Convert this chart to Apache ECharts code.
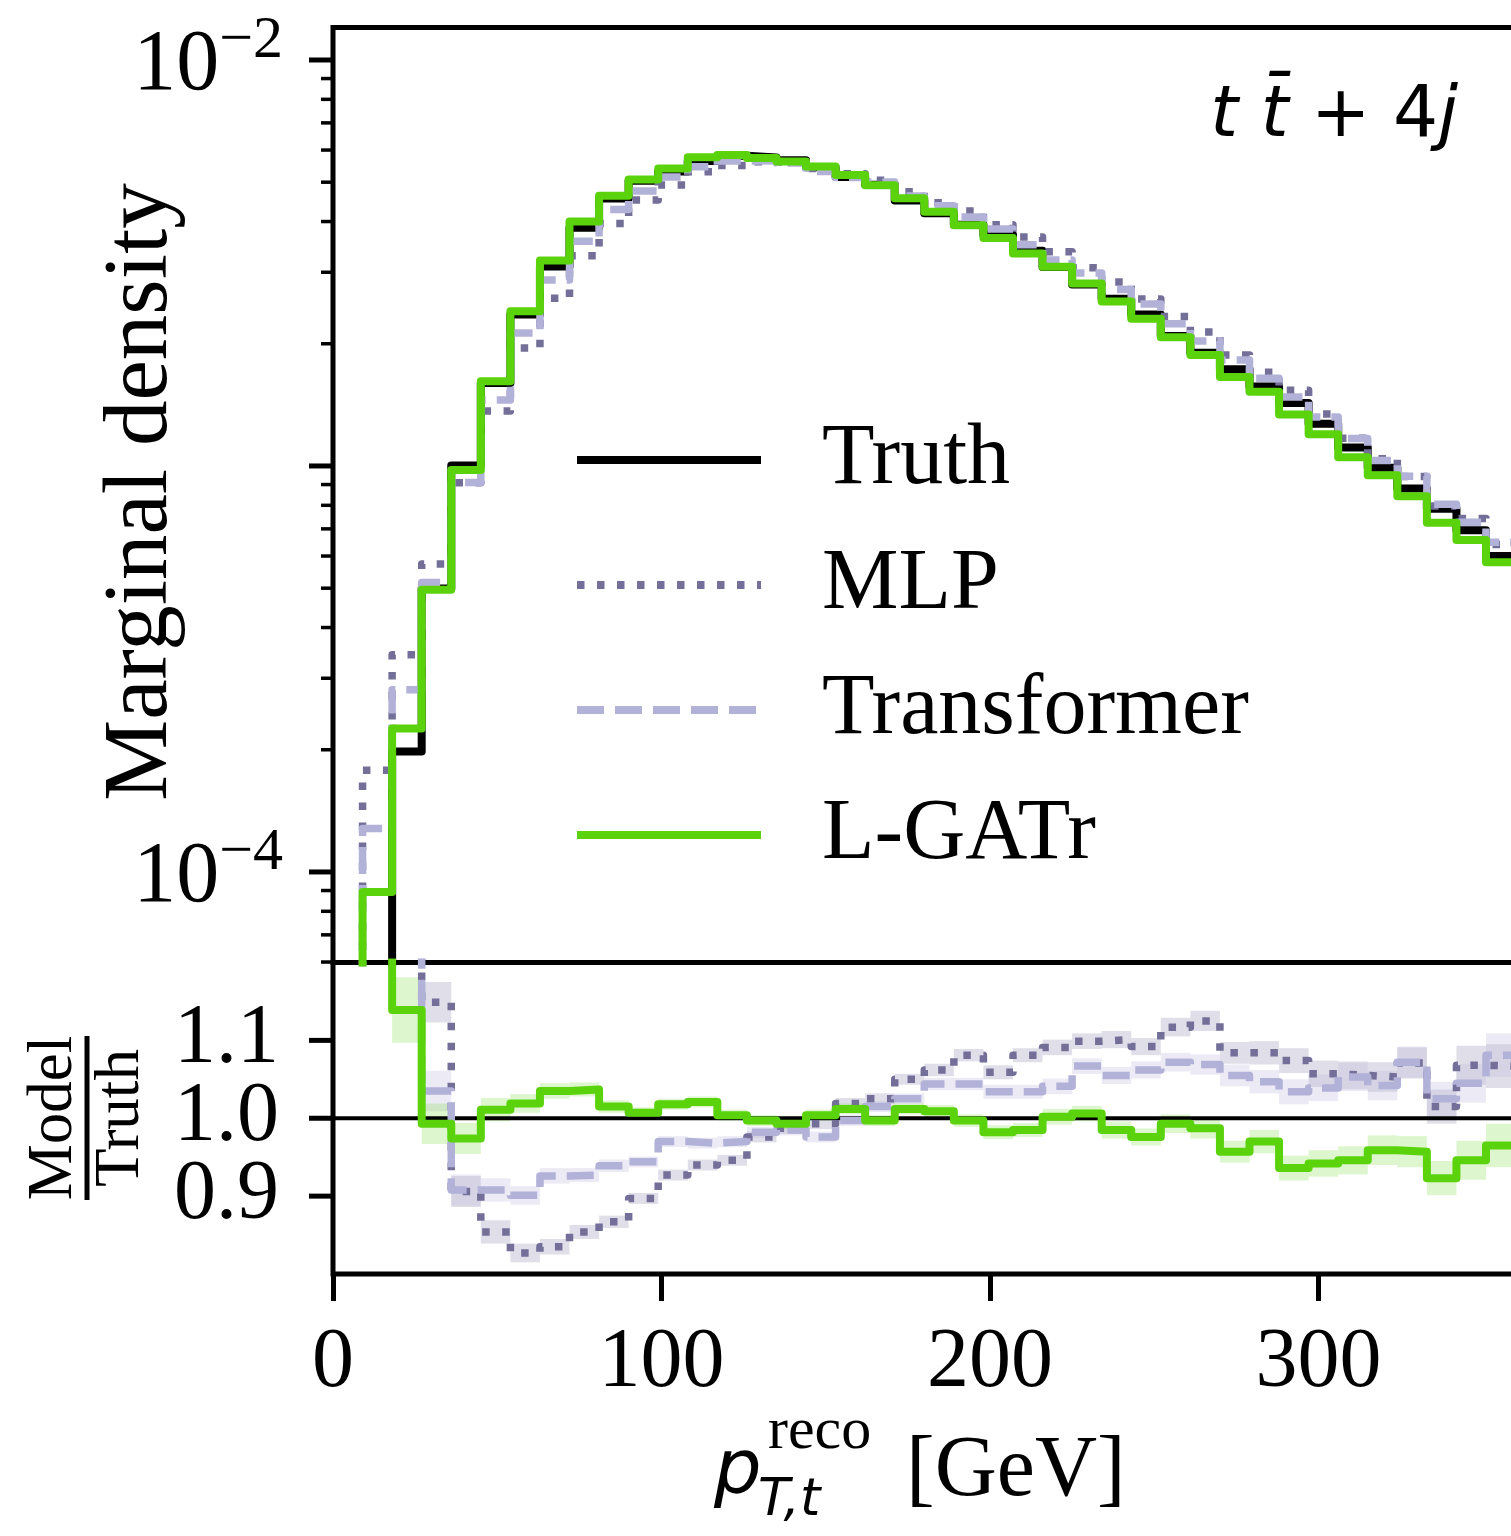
<!DOCTYPE html>
<html>
<head>
<meta charset="utf-8">
<title>Marginal density of reconstructed top pT</title>
<script src="https://cdn.jsdelivr.net/npm/echarts@6/dist/echarts.min.js"></script>
<style>
  html, body { margin: 0; padding: 0; background: #fff; }
  #main { width: 1511px; height: 1536px; }
</style>
</head>
<body>
<div id="main"></div>
<script>
// histogram bin edges [GeV]
const binEdges = [9, 18, 27, 36, 45, 54, 63, 72, 81, 90, 99, 108, 117, 126, 135, 144, 153, 162, 171, 180,
  189, 198, 207, 216, 225, 234, 243, 252, 261, 270, 279, 288, 297, 306, 315, 324, 333, 342, 351, 360]

// truth marginal density per bin
const truthDensity = [4.0e-5, 1.98e-4, 4.99e-4, 1.003e-3, 1.60e-3, 2.36e-3, 3.10e-3, 3.86e-3, 4.56e-3, 5.04e-3,
  5.31e-3, 5.64e-3, 5.81e-3, 5.75e-3, 5.66e-3, 5.44e-3, 5.15e-3, 4.93e-3, 4.51e-3, 4.19e-3,
  3.93e-3, 3.71e-3, 3.39e-3, 3.09e-3, 2.80e-3, 2.58e-3, 2.36e-3, 2.09e-3, 1.90e-3, 1.73e-3,
  1.57e-3, 1.43e-3, 1.27e-3, 1.11e-3, 9.9e-4, 8.8e-4, 7.85e-4, 6.95e-4, 6.0e-4]

// model / truth ratios per bin
const ratioMLP = [4.45, 1.73, 1.149, 0.906, 0.854, 0.827, 0.835, 0.854, 0.867, 0.897,
  0.927, 0.940, 0.946, 0.976, 0.987, 0.993, 1.019, 1.025, 1.050, 1.062,
  1.081, 1.059, 1.081, 1.091, 1.099, 1.101, 1.092, 1.117, 1.125, 1.084,
  1.084, 1.074, 1.057, 1.055, 1.053, 1.071, 1.015, 1.068, 1.067]
const ratioTransformer = [3.2, 1.42, 1.035, 0.908, 0.908, 0.901, 0.926, 0.927, 0.939, 0.944,
  0.970, 0.968, 0.970, 0.982, 0.985, 0.976, 0.997, 1.015, 1.025, 1.044,
  1.044, 1.034, 1.034, 1.041, 1.067, 1.055, 1.062, 1.072, 1.069, 1.055,
  1.047, 1.034, 1.039, 1.053, 1.042, 1.072, 1.025, 1.045, 1.081]
const ratioLGATr = [2.23, 1.139, 0.993, 0.974, 1.011, 1.019, 1.035, 1.037, 1.015, 1.007,
  1.018, 1.021, 1.004, 0.997, 0.993, 1.004, 1.012, 0.997, 1.012, 1.009,
  0.997, 0.982, 0.985, 1.002, 1.006, 0.985, 0.976, 0.993, 0.987, 0.957,
  0.970, 0.936, 0.942, 0.946, 0.959, 0.957, 0.923, 0.946, 0.965]

// half width of the uncertainty band on the ratio
const bandErr = [0.06, 0.042, 0.026, 0.02, 0.015, 0.012, 0.01, 0.009, 0.008, 0.007,
  0.007, 0.007, 0.007, 0.007, 0.007, 0.007, 0.007, 0.007, 0.007, 0.008,
  0.008, 0.009, 0.009, 0.01, 0.01, 0.011, 0.011, 0.012, 0.013, 0.014,
  0.015, 0.016, 0.017, 0.018, 0.019, 0.02, 0.022, 0.025, 0.028]

const logMajorTicks = [1e-4, 1e-3, 1e-2]
const logMinorTicks = [6e-5, 7e-5, 8e-5, 9e-5, 2e-4, 3e-4, 4e-4, 5e-4, 6e-4, 7e-4, 8e-4, 9e-4,
  2e-3, 3e-3, 4e-3, 5e-3, 6e-3, 7e-3, 8e-3, 9e-3]
const logLabelExps = [-4, -2]
const ratioTicks = [0.9, 1.0, 1.1]
const xTicks = [0, 100, 200, 300]

const models = [
  { name: 'MLP', ratio: ratioMLP, color: '#736f99', type: [7.5, 12.5], band: 'rgba(115,111,153,0.22)' },
  { name: 'Transformer', ratio: ratioTransformer, color: '#b2b1d8', type: [27, 11], band: 'rgba(178,177,216,0.25)' },
  { name: 'L-GATr', ratio: ratioLGATr, color: '#5ad20c', type: 'solid', band: 'rgba(90,210,12,0.2)' }
]

const SERIF = 'Liberation Serif'
const SANS = 'DejaVu Sans'

function histData(vals) {
  const pts = [[binEdges[0], 1e-7]]
  vals.forEach((v, i) => pts.push([binEdges[i], v]))
  pts.push([binEdges[vals.length], vals[vals.length - 1]])
  return pts
}
function stepData(vals) {
  const pts = vals.map((v, i) => [binEdges[i], v])
  pts.push([binEdges[vals.length], vals[vals.length - 1]])
  return pts
}

function tickSeries(gridIdx, ticks) {
  return {
    type: 'custom',
    xAxisIndex: gridIdx,
    yAxisIndex: gridIdx,
    silent: true,
    z: 20,
    data: ticks,
    encode: { x: 0, y: 1 },
    renderItem: (params, api) => {
      const p = api.coord([api.value(0), api.value(1)])
      const major = api.value(2) === 1
      return {
        type: 'line',
        shape: { x1: p[0] - (major ? 24 : 12), y1: p[1], x2: p[0], y2: p[1] },
        style: { stroke: '#000', lineWidth: major ? 5 : 3.5 }
      }
    }
  }
}

function bandSeries(m) {
  return {
    type: 'custom',
    xAxisIndex: 1,
    yAxisIndex: 1,
    silent: true,
    z: 1,
    data: m.ratio.map((r, i) => [binEdges[i], binEdges[i + 1], r - bandErr[i], r + bandErr[i]]),
    encode: { x: [0, 1], y: [2, 3] },
    renderItem: (params, api) => {
      const p1 = api.coord([api.value(0), api.value(3)])
      const p2 = api.coord([api.value(1), api.value(2)])
      const rect = echarts.graphic.clipRectByRect(
        { x: p1[0], y: p1[1], width: p2[0] - p1[0], height: p2[1] - p1[1] },
        { x: params.coordSys.x, y: params.coordSys.y, width: params.coordSys.width, height: params.coordSys.height }
      )
      return rect && { type: 'rect', shape: rect, style: { fill: m.band } }
    }
  }
}

const chart = echarts.init(document.getElementById('main'))

const series = []
// top panel histograms
series.push({
  name: 'Truth', type: 'line', xAxisIndex: 0, yAxisIndex: 0, step: 'end', symbol: 'none', z: 3,
  data: histData(truthDensity),
  lineStyle: { color: '#000', width: 8, join: 'round' }, itemStyle: { color: '#000' }
})
models.forEach((m, k) => {
  series.push({
    name: m.name, type: 'line', xAxisIndex: 0, yAxisIndex: 0, step: 'end', symbol: 'none', z: 4 + k,
    data: histData(truthDensity.map((t, i) => t * m.ratio[i])),
    lineStyle: { color: m.color, width: m.type === 'solid' ? 8 : 7.5, type: m.type, cap: 'butt', join: 'round' },
    itemStyle: { color: m.color }
  })
})
// ratio panel
models.forEach(m => series.push(bandSeries(m)))
series.push({
  name: 'Truth ratio', type: 'line', xAxisIndex: 1, yAxisIndex: 1, symbol: 'none', z: 2,
  data: [[0, 1], [365, 1]],
  lineStyle: { color: '#000', width: 4 }
})
models.forEach((m, k) => {
  series.push({
    name: m.name + ' ratio', type: 'line', xAxisIndex: 1, yAxisIndex: 1, step: 'end', symbol: 'none', z: 4 + k,
    data: stepData(m.ratio),
    lineStyle: { color: m.color, width: m.type === 'solid' ? 8 : 7.5, type: m.type, cap: 'butt', join: 'round' }
  })
})
// axis ticks on the y axes
series.push(tickSeries(0, logMajorTicks.map(v => [0, v, 1]).concat(logMinorTicks.map(v => [0, v, 0]))))
series.push(tickSeries(1, ratioTicks.map(v => [0, v, 1])))

const option = {
  animation: false,
  backgroundColor: '#fff',
  grid: [
    { left: 333, width: 1199, top: 27.5, height: 935, outerBoundsMode: 'none', containLabel: false, show: true, borderColor: '#000', borderWidth: 5 },
    { left: 333, width: 1199, top: 962.5, height: 311.5, outerBoundsMode: 'none', containLabel: false, show: true, borderColor: '#000', borderWidth: 5 }
  ],
  xAxis: [
    {
      type: 'value', gridIndex: 0, min: 0, max: 365, interval: 100,
      axisLine: { show: false }, axisTick: { show: false }, axisLabel: { show: false }, splitLine: { show: false }
    },
    {
      type: 'value', gridIndex: 1, min: 0, max: 365, interval: 100,
      axisLine: { show: false },
      axisTick: { show: true, length: 27, lineStyle: { color: '#000', width: 5 } },
      axisLabel: {
        margin: 48, color: '#000', fontFamily: SERIF, fontSize: 84,
        formatter: v => (xTicks.indexOf(v) >= 0 ? String(v) : '')
      },
      splitLine: { show: false }
    }
  ],
  yAxis: [
    {
      type: 'log', logBase: 10, gridIndex: 0, min: 5.984e-5, max: 0.012023,
      axisLine: { show: false }, axisTick: { show: false }, splitLine: { show: false }, minorTick: { show: false },
      axisLabel: {
        margin: 50, color: '#000',
        formatter: v => {
          const e = Math.round(Math.log10(v))
          if (Math.abs(Math.log10(v) - e) > 1e-6 || logLabelExps.indexOf(e) < 0) return ''
          return '{b|10}{s|\u2212' + (-e) + '}'
        },
        rich: {
          b: { fontFamily: SERIF, fontSize: 86, color: '#000', verticalAlign: 'bottom' },
          s: { fontFamily: SERIF, fontSize: 60, color: '#000', verticalAlign: 'bottom', padding: [0, 0, 38, 0] }
        }
      }
    },
    {
      type: 'value', gridIndex: 1, min: 0.8, max: 1.2, interval: 0.1,
      axisLine: { show: false }, axisTick: { show: false }, splitLine: { show: false },
      axisLabel: {
        margin: 54, color: '#000', fontFamily: SERIF, fontSize: 84,
        formatter: v => (ratioTicks.some(t => Math.abs(t - v) < 1e-6) ? v.toFixed(1) : '')
      }
    }
  ],
  legend: {
    data: ['Truth', 'MLP', 'Transformer', 'L-GATr'],
    orient: 'vertical',
    left: 573,
    top: 410,
    padding: 0,
    itemWidth: 184,
    itemHeight: 1,
    itemGap: 25,
    selectedMode: false,
    itemStyle: { opacity: 0 },
    lineStyle: { width: 8 },
    textStyle: { fontFamily: SERIF, fontSize: 86, color: '#000', lineHeight: 100, padding: [0, 0, 0, 56] }
  },
  graphic: [
    {
      type: 'text', x: 142, y: 492, rotation: Math.PI / 2,
      style: { text: 'Marginal density', fontFamily: SERIF, fontSize: 91, fill: '#000', align: 'center', verticalAlign: 'middle' }
    },
    {
      type: 'group', x: 87, y: 1118, rotation: Math.PI / 2,
      children: [
        { type: 'text', x: 0, y: -33, style: { text: 'Model', fontFamily: SERIF, fontSize: 63, fill: '#000', align: 'center', verticalAlign: 'middle' } },
        { type: 'line', shape: { x1: -82, y1: 0, x2: 82, y2: 0 }, style: { stroke: '#000', lineWidth: 5 } },
        { type: 'text', x: 0, y: 34, style: { text: 'Truth', fontFamily: SERIF, fontSize: 63, fill: '#000', align: 'center', verticalAlign: 'middle' } }
      ]
    },
    {
      type: 'text', x: 1458, y: 118,
      style: {
        text: '{i|t t\u0304}{r| + 4}{i|j}', align: 'right', verticalAlign: 'middle',
        rich: {
          i: { fontFamily: SANS, fontStyle: 'italic', fontSize: 71, fill: '#000' },
          r: { fontFamily: SANS, fontSize: 71, fill: '#000' }
        }
      }
    },
    { type: 'text', x: 714, y: 1474, style: { text: 'p', fontFamily: SANS, fontStyle: 'italic', fontSize: 75, fill: '#000', align: 'left', verticalAlign: 'middle' } },
    { type: 'text', x: 768, y: 1432, style: { text: 'reco', fontFamily: SERIF, fontSize: 60, fill: '#000', align: 'left', verticalAlign: 'middle' } },
    { type: 'text', x: 758, y: 1501, style: { text: 'T,t', fontFamily: SANS, fontStyle: 'italic', fontSize: 52, fill: '#000', align: 'left', verticalAlign: 'middle' } },
    { type: 'text', x: 906, y: 1472, style: { text: '[GeV]', fontFamily: SERIF, fontSize: 86, fill: '#000', align: 'left', verticalAlign: 'middle' } }
  ],
  series: series
}

chart.setOption(option)
</script>
</body>
</html>
